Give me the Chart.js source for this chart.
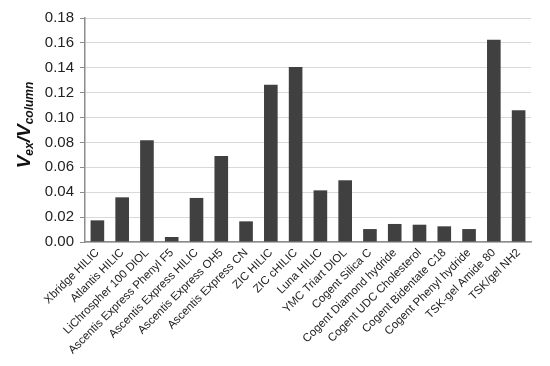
<!DOCTYPE html>
<html>
<head>
<meta charset="utf-8">
<script src="https://cdn.jsdelivr.net/npm/chart.js@4/dist/chart.umd.min.js"></script>
<style>
    body { margin: 0; background: #fff; }
    #wrap { width: 550px; height: 366px; }
</style>
</head>
<body>
<div id="wrap"><canvas id="vexChart" width="550" height="366"></canvas></div>
<script>
// Column names (x axis)
const columns = [
    'Xbridge HILIC', 'Atlantis HILIC', 'LiChrospher 100 DIOL', 'Ascentis Express Phenyl F5',
    'Ascentis Express HILIC', 'Ascentis Express OH5', 'Ascentis Express CN', 'ZIC HILIC',
    'ZIC cHILIC', 'Luna HILIC', 'YMC Triart DIOL', 'Cogent Silica C',
    'Cogent Diamond hydride', 'Cogent UDC Cholesterol', 'Cogent Bidentate C18',
    'Cogent Phenyl hydride', 'TSK-gel Amide 80', 'TSK/gel NH2'
];

// Vex / Vcolumn ratio
const vexRatio = [
    0.0174, 0.0359, 0.0817, 0.0040, 0.0354, 0.0691, 0.0166, 0.1264,
    0.1406, 0.0415, 0.0496, 0.0104, 0.0145, 0.0139, 0.0126, 0.0104,
    0.1626, 0.1058
];

const yTicks = [0, 0.02, 0.04, 0.06, 0.08, 0.10, 0.12, 0.14, 0.16, 0.18];

// y axis title with subscripts
const axisTitle = {
    id: 'axisTitle',
    afterDraw(chart) {
        const ctx = chart.ctx;
        const parts = [
            { t: 'V', sub: false },
            { t: 'ex', sub: true },
            { t: '/', sub: false },
            { t: 'V', sub: false },
            { t: 'column', sub: true }
        ];
        const big = 'italic bold 19px "Liberation Sans", Arial, sans-serif';
        const small = 'italic bold 12px "Liberation Sans", Arial, sans-serif';
        let total = 0;
        parts.forEach(p => {
            ctx.font = p.sub ? small : big;
            p.w = ctx.measureText(p.t).width;
            total += p.w;
        });
        ctx.save();
        ctx.translate(30, 125);
        ctx.rotate(-Math.PI / 2);
        ctx.fillStyle = '#111';
        ctx.textBaseline = 'alphabetic';
        let x = -total / 2;
        parts.forEach(p => {
            ctx.font = p.sub ? small : big;
            ctx.fillText(p.t, x, p.sub ? 3 : 0);
            x += p.w;
        });
        ctx.restore();
    }
};

const ctxVex = document.getElementById('vexChart').getContext('2d');
new Chart(ctxVex, {
    type: 'bar',
    data: {
        labels: columns,
        datasets: [{
            data: vexRatio,
            backgroundColor: '#404040',
            borderWidth: 0,
            barPercentage: 0.55,
            categoryPercentage: 1.0
        }]
    },
    options: {
        responsive: false,
        animation: false,
        layout: { padding: { left: 0, right: 19, top: 18, bottom: 0 } },
        plugins: {
            legend: { display: false },
            tooltip: { enabled: false }
        },
        scales: {
            x: {
                grid: { display: false, drawTicks: false },
                border: { display: true, color: '#8c8c8c', width: 1.5 },
                ticks: {
                    autoSkip: false,
                    maxRotation: 45,
                    minRotation: 45,
                    padding: 4,
                    color: '#222',
                    font: { family: '"Liberation Sans", Arial, sans-serif', size: 11.5 }
                },
                afterFit(scale) { scale.height = 124; }
            },
            y: {
                min: 0,
                max: 0.18,
                afterBuildTicks(scale) {
                    scale.ticks = yTicks.map(v => ({ value: v }));
                },
                grid: { color: '#d9d9d9', lineWidth: 1, tickLength: 5, tickColor: '#8c8c8c' },
                border: { display: true, color: '#8c8c8c', width: 1.5 },
                ticks: {
                    padding: 6,
                    color: '#222',
                    font: { family: '"Liberation Sans", Arial, sans-serif', size: 15 },
                    callback: v => v.toFixed(2)
                },
                afterFit(scale) { scale.width = 85; }
            }
        }
    },
    plugins: [axisTitle]
});
</script>
</body>
</html>
